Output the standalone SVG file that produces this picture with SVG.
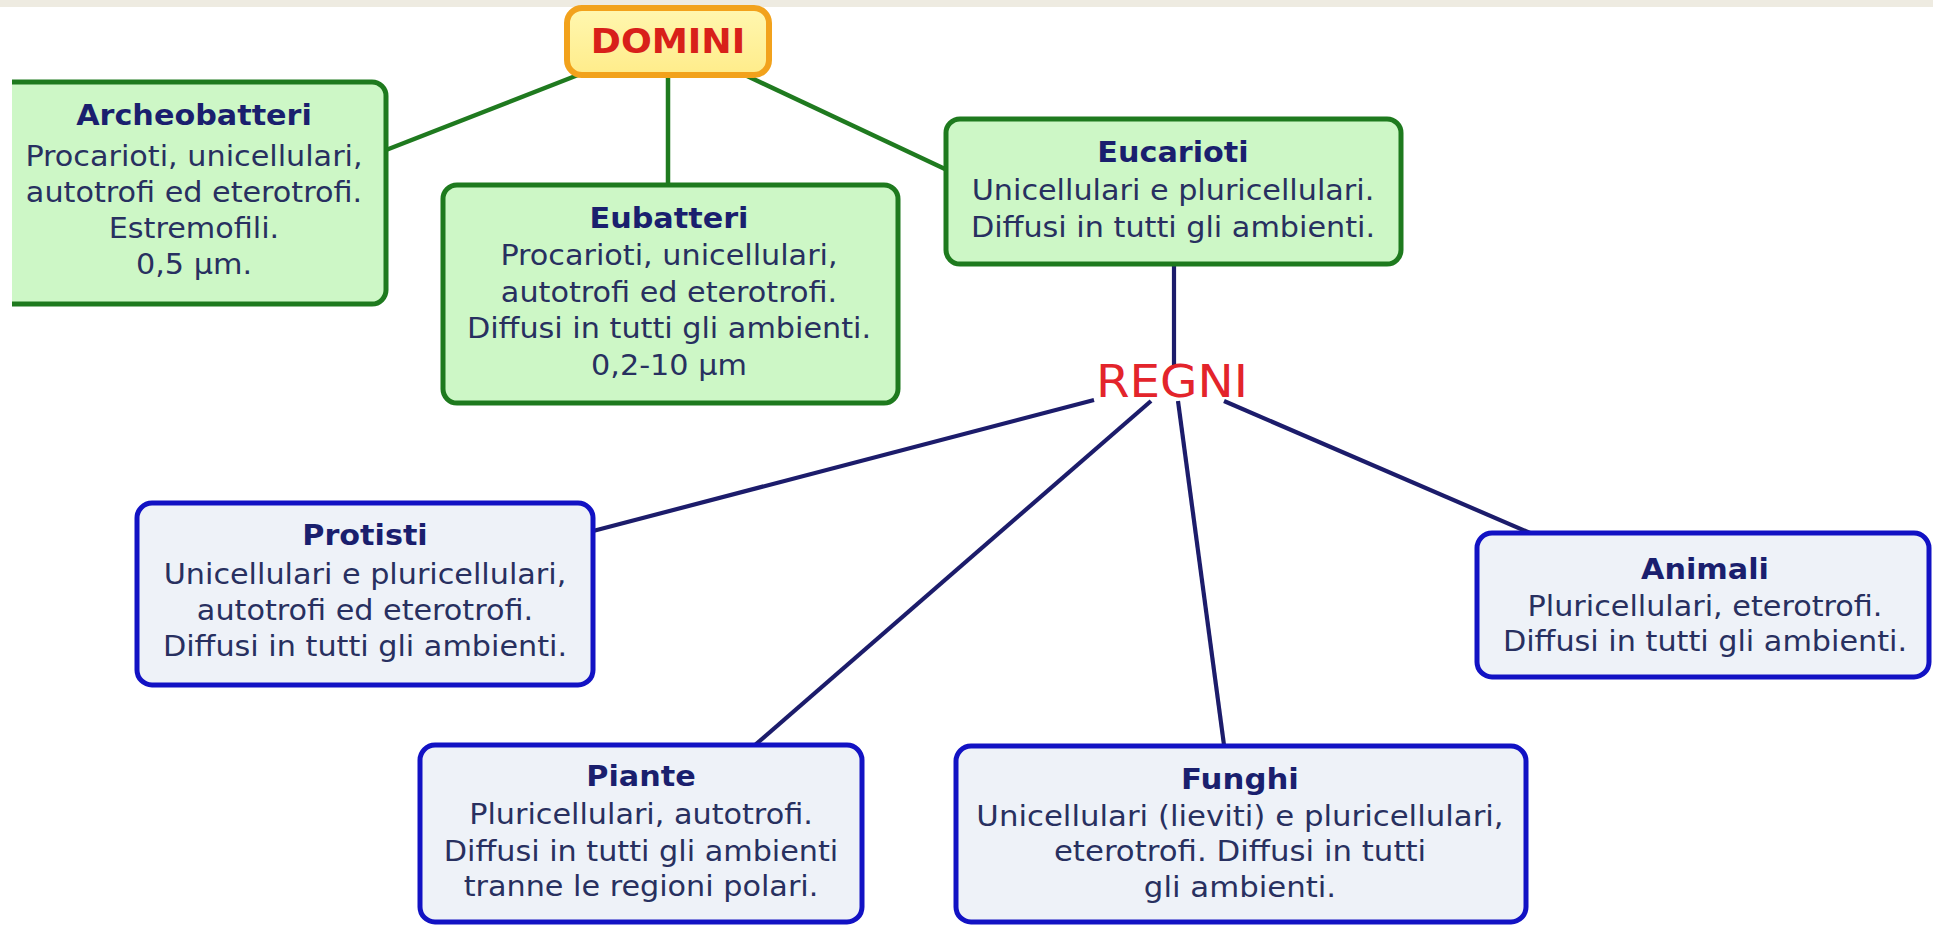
<svg xmlns="http://www.w3.org/2000/svg" width="1936" height="925" viewBox="0 0 1936 925">
<defs>
<style>
.gbox{fill:#cdf7c6;stroke:#1e7a1e;stroke-width:5}
.bbox{fill:#eef2f8;stroke:#1212c4;stroke-width:5}
.t{font-family:"DejaVu Sans",Verdana,sans-serif;font-size:27.5px;text-anchor:middle;fill:#283060}
.h{font-weight:bold;fill:#1a1f6e}
.gl{stroke:#1f7a1f;stroke-width:4.5;fill:none}
.nl{stroke:#1c1c6b;stroke-width:4.2;fill:none}
</style>
<clipPath id="clipL"><rect x="12" y="0" width="1924" height="925"/></clipPath>
<linearGradient id="ygrad" x1="0" y1="0" x2="0" y2="1">
<stop offset="0" stop-color="#fff7b0"/>
<stop offset="1" stop-color="#ffec8a"/>
</linearGradient>
</defs>
<rect x="0" y="0" width="1936" height="925" fill="#ffffff"/>
<rect x="0" y="0" width="1933" height="7" fill="#eeebe1"/>

<g id="connectors">
<line class="gl" x1="578" y1="75" x2="386" y2="150"/>
<line class="gl" x1="668" y1="75" x2="668" y2="185"/>
<line class="gl" x1="745" y1="75" x2="945" y2="169"/>
<line class="nl" x1="1174" y1="265" x2="1174" y2="365"/>
<line class="nl" x1="1094" y1="400" x2="593" y2="531"/>
<line class="nl" x1="1151" y1="401" x2="755" y2="745"/>
<line class="nl" x1="1178" y1="401" x2="1224" y2="745"/>
<line class="nl" x1="1224" y1="401" x2="1530" y2="533"/>
</g>

<g id="domini">
<rect x="567" y="8" width="202" height="67" rx="15" fill="url(#ygrad)" stroke="#f2a21c" stroke-width="6"/>
<g transform="translate(668,0) scale(1.1,1)"><text x="0" y="53" style="font-family:'DejaVu Sans',Verdana,sans-serif;font-size:33px;font-weight:bold;fill:#d8201a;text-anchor:middle">DOMINI</text></g>
</g>

<g id="archeobatteri">
<rect class="gbox" x="-20" y="82" width="406" height="222" rx="14" clip-path="url(#clipL)"/>
<g transform="translate(194,0) scale(1.1,1)">
<text class="t h" x="0" y="125">Archeobatteri</text>
<text class="t" x="0" y="166">Procarioti, unicellulari,</text>
<text class="t" x="0" y="202">autotrofi ed eterotrofi.</text>
<text class="t" x="0" y="238">Estremofili.</text>
<text class="t" x="0" y="274">0,5 µm.</text>
</g>
</g>

<g id="eubatteri">
<rect class="gbox" x="443" y="185" width="455" height="218" rx="14"/>
<g transform="translate(669,0) scale(1.1,1)">
<text class="t h" x="0" y="228">Eubatteri</text>
<text class="t" x="0" y="265">Procarioti, unicellulari,</text>
<text class="t" x="0" y="302">autotrofi ed eterotrofi.</text>
<text class="t" x="0" y="338">Diffusi in tutti gli ambienti.</text>
<text class="t" x="0" y="375">0,2-10 µm</text>
</g>
</g>

<g id="eucarioti">
<rect class="gbox" x="946" y="119" width="455" height="145" rx="14"/>
<g transform="translate(1173,0) scale(1.1,1)">
<text class="t h" x="0" y="162">Eucarioti</text>
<text class="t" x="0" y="200">Unicellulari e pluricellulari.</text>
<text class="t" x="0" y="237">Diffusi in tutti gli ambienti.</text>
</g>
</g>

<g id="regni">
<g transform="translate(1172,0) scale(1.1,1)"><text x="0" y="397" style="font-family:'DejaVu Sans',Verdana,sans-serif;font-size:44px;fill:#e3242b;text-anchor:middle">REGNI</text></g>
</g>

<g id="protisti">
<rect class="bbox" x="137" y="503" width="456" height="182" rx="15"/>
<g transform="translate(365,0) scale(1.1,1)">
<text class="t h" x="0" y="545">Protisti</text>
<text class="t" x="0" y="584">Unicellulari e pluricellulari,</text>
<text class="t" x="0" y="620">autotrofi ed eterotrofi.</text>
<text class="t" x="0" y="656">Diffusi in tutti gli ambienti.</text>
</g>
</g>

<g id="animali">
<rect class="bbox" x="1477" y="533" width="452" height="144" rx="15"/>
<g transform="translate(1705,0) scale(1.1,1)">
<text class="t h" x="0" y="579">Animali</text>
<text class="t" x="0" y="616">Pluricellulari, eterotrofi.</text>
<text class="t" x="0" y="651">Diffusi in tutti gli ambienti.</text>
</g>
</g>

<g id="piante">
<rect class="bbox" x="420" y="745" width="442" height="177" rx="15"/>
<g transform="translate(641,0) scale(1.1,1)">
<text class="t h" x="0" y="786">Piante</text>
<text class="t" x="0" y="824">Pluricellulari, autotrofi.</text>
<text class="t" x="0" y="861">Diffusi in tutti gli ambienti</text>
<text class="t" x="0" y="896">tranne le regioni polari.</text>
</g>
</g>

<g id="funghi">
<rect class="bbox" x="956" y="746" width="570" height="176" rx="15"/>
<g transform="translate(1240,0) scale(1.12,1)">
<text class="t h" x="0" y="789">Funghi</text>
<text class="t" x="0" y="826">Unicellulari (lieviti) e pluricellulari,</text>
<text class="t" x="0" y="861">eterotrofi. Diffusi in tutti</text>
<text class="t" x="0" y="897">gli ambienti.</text>
</g>
</g>
</svg>
